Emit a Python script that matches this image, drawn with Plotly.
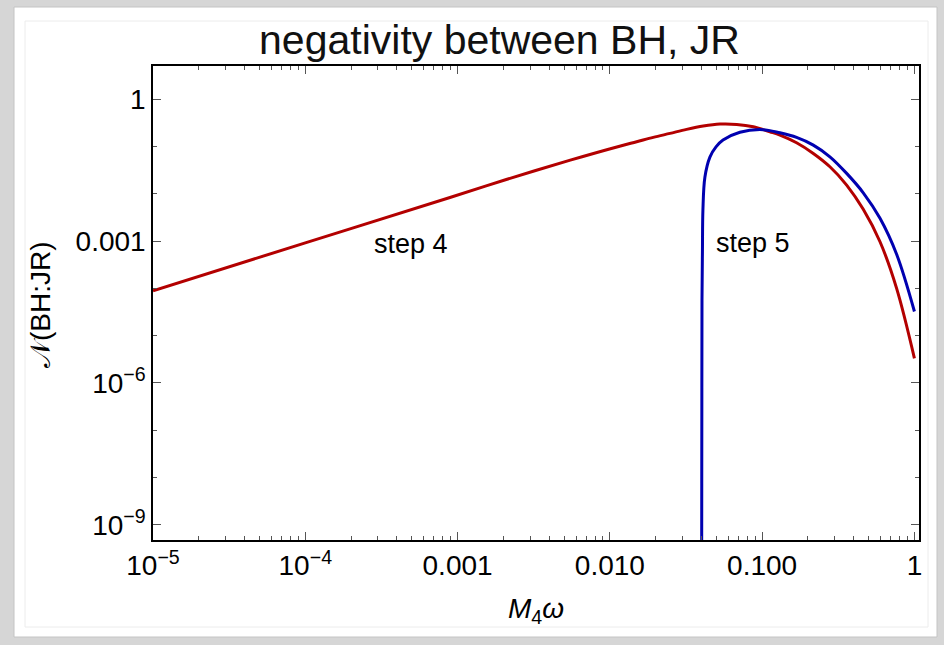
import numpy as np
import plotly.graph_objects as go

# values (log10 of M4*omega and of the negativity)
red_log_x = [-5.0, -4.0, -3.05, -2.68, -2.26, -1.93, -1.824, -1.715, -1.605, -1.496,
             -1.387, -1.277, -1.167, -1.058, -0.949, -0.883, -0.774, -0.664, -0.555,
             -0.445, -0.336, -0.226, -0.117, 0.0]
red_log_y = [-4.05, -3.04, -2.08, -1.70, -1.29, -0.99, -0.902, -0.809, -0.725, -0.640,
             -0.570, -0.528, -0.535, -0.585, -0.691, -0.761, -0.923, -1.148, -1.43,
             -1.817, -2.33, -3.015, -4.0, -5.48]

blue_log_x = [-1.3975, -1.397, -1.396, -1.395, -1.392, -1.389, -1.376, -1.343, -1.303,
              -1.257, -1.146, -0.995, -0.883, -0.774, -0.664, -0.555, -0.445, -0.336,
              -0.226, -0.117, 0.0]
blue_log_y = [-12.0, -9.5, -6.57, -4.25, -3.19, -2.35, -1.65, -1.225, -1.01,
              -0.866, -0.70, -0.645, -0.712, -0.809, -0.972, -1.219, -1.57, -1.98,
              -2.52, -3.28, -4.49]

x_tick_vals = [1e-5, 1e-4, 1e-3, 1e-2, 1e-1, 1]
x_tick_text = ['10<sup>\u22125</sup>', '10<sup>\u22124</sup>', '0.001', '0.010', '0.100', '1']
y_tick_vals = [1e-9, 1e-6, 1e-3, 1]
y_tick_text = ['10<sup>\u22129</sup>', '10<sup>\u22126</sup>', '0.001', '1']

labels = ['step 4', 'step 5']
label_log_x = [-3.306, -1.06]
label_log_y = [-3.06, -3.04]

FONT = 'Liberation Sans, Arial, Helvetica, sans-serif'

# plot area in pixels: x 153..919, y 66..540
L, R, T, B = 153, 919, 66, 540


def px(x, y):
    return (x - L) / (R - L), (B - y) / (B - T)


fig = go.Figure()

fig.add_trace(go.Scatter(
    x=10 ** np.array(red_log_x), y=10 ** np.array(red_log_y),
    mode='lines', line=dict(color='#b30000', width=3, shape='spline', smoothing=1.0),
    showlegend=False
))
fig.add_trace(go.Scatter(
    x=10 ** np.array(blue_log_x), y=10 ** np.array(blue_log_y),
    mode='lines', line=dict(color='#0000b0', width=3, shape='spline', smoothing=1.0),
    showlegend=False
))

for t, lx, ly in zip(labels, label_log_x, label_log_y):
    fig.add_annotation(x=lx, y=ly, text=t, showarrow=False,
                       xanchor='center', yanchor='middle',
                       font=dict(size=27, color='black', family=FONT))

# axis titles
fig.add_annotation(x=px(536, 0)[0], y=px(0, 610)[1], xref='paper', yref='paper',
                   text='<i>M</i><sub>4</sub><i>\u03c9</i>', showarrow=False,
                   xanchor='center', yanchor='middle',
                   font=dict(size=28, color='black', family=FONT))
fig.add_annotation(x=px(40, 0)[0], y=px(0, 305)[1], xref='paper', yref='paper',
                   text='\U0001D4A9(BH:JR)', textangle=-90, showarrow=False,
                   xanchor='center', yanchor='middle',
                   font=dict(size=28, color='black', family=FONT))

# window frame behind the chart
x0, y0 = px(14, 7)
x1, y1 = px(937, 637)
fig.add_shape(type='rect', xref='paper', yref='paper', x0=x0, y0=y0, x1=x1, y1=y1,
              fillcolor='white', line=dict(color='#c4c4c4', width=1), layer='below')
x0, y0 = px(25, 21)
x1, y1 = px(928, 627)
fig.add_shape(type='rect', xref='paper', yref='paper', x0=x0, y0=y0, x1=x1, y1=y1,
              fillcolor='rgba(0,0,0,0)', line=dict(color='#ececec', width=1), layer='below')

axis_common = dict(
    type='log', showgrid=False, zeroline=False,
    showline=True, linecolor='black', linewidth=1.5, mirror='ticks',
    ticks='inside', ticklen=8, tickwidth=1, tickcolor='#555555',
    tickmode='array', tickfont=dict(size=28, color='black', family=FONT),
)

fig.update_layout(
    width=944, height=645,
    margin=dict(l=L, r=944 - R, t=T, b=645 - B),
    paper_bgcolor='#d6d6d6', plot_bgcolor='white',
    title=dict(text='negativity between BH, JR', x=499.5 / 944, xref='container',
               y=1 - 40 / 645, yref='container', xanchor='center', yanchor='middle',
               font=dict(size=41, color='#111111', family=FONT)),
    xaxis=dict(axis_common, range=[-5, 0.03], tickvals=x_tick_vals, ticktext=x_tick_text,
               minor=dict(ticks='inside', ticklen=4, tickcolor='#555555', dtick='D1')),
    yaxis=dict(axis_common, range=[-9.32, 0.70], tickvals=y_tick_vals, ticktext=y_tick_text,
               minor=dict(ticks='inside', ticklen=4, tickcolor='#555555', dtick=1)),
)

fig.write_html("out.html", config={'displayModeBar': False},
               post_script="document.body.style.margin='0';")
